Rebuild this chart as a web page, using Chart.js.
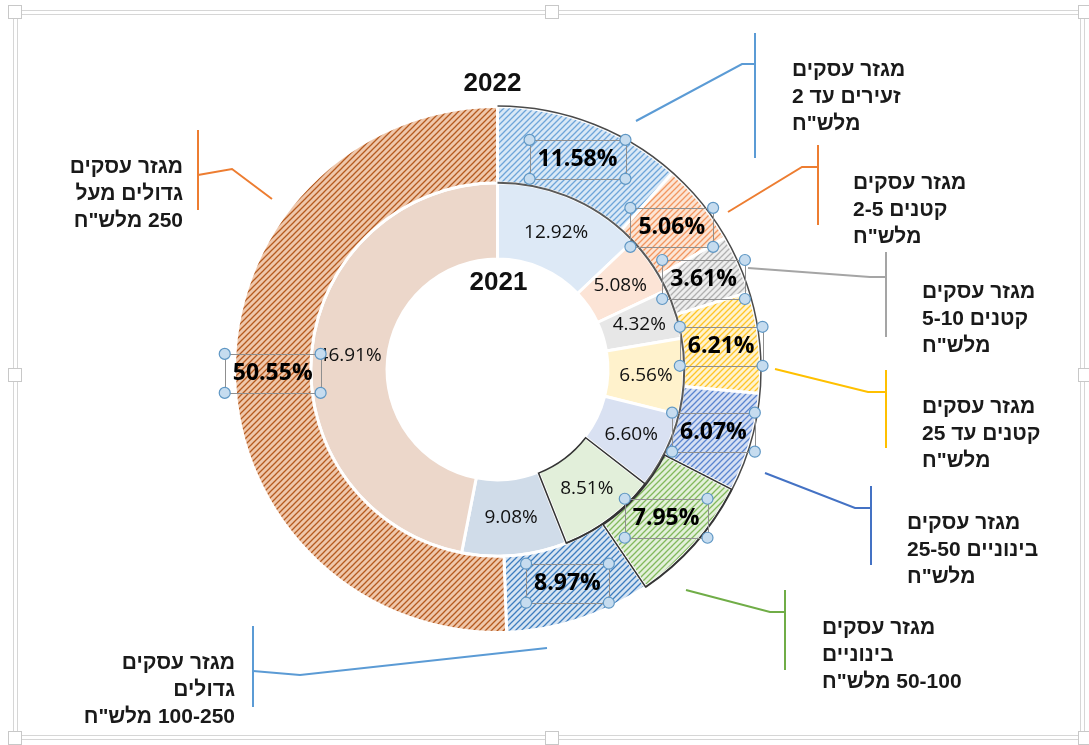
<!DOCTYPE html>
<html>
<head>
<meta charset="utf-8">
<script src="https://cdn.jsdelivr.net/npm/chart.js@4"></script>
<style>
  html, body { margin: 0; padding: 0; background: #fff; }
  canvas { display: block; }
</style>
</head>
<body>
<canvas id="c" width="1089" height="745"></canvas>
<script>
// segment order: clockwise from 12 o'clock
const categories = [
    'זעירים עד 2', 'קטנים 2-5', 'קטנים 5-10', 'קטנים עד 25',
    'בינוניים 25-50', 'בינוניים 50-100', 'גדולים 100-250', 'גדולים מעל 250'
];
const values2022 = [11.58, 5.06, 3.61, 6.21, 6.07, 7.95, 8.97, 50.55];
const values2021 = [12.92, 5.08, 4.32, 6.56, 6.60, 8.51, 9.08, 46.91];
const yearLabels = ['2022', '2021'];

// callout texts (one per category), lines as shown
const calloutTexts = [
    ['מגזר עסקים', 'זעירים עד 2', 'מלש"ח'],
    ['מגזר עסקים', 'קטנים 2-5', 'מלש"ח'],
    ['מגזר עסקים', 'קטנים 5-10', 'מלש"ח'],
    ['מגזר עסקים', 'קטנים עד 25', 'מלש"ח'],
    ['מגזר עסקים', 'בינוניים 25-50', 'מלש"ח'],
    ['מגזר עסקים', 'בינוניים', '50-100 מלש"ח'],
    ['מגזר עסקים', 'גדולים', '100-250 מלש"ח'],
    ['מגזר עסקים', 'גדולים מעל', '250 מלש"ח']
];

const lineColors = ['#5B9BD5', '#ED7D31', '#A5A5A5', '#FFC000', '#4472C4', '#70AD47', '#5B9BD5', '#ED7D31'];
const hatchBg = ['#d9e8f6', '#fce5d5', '#eeeeee', '#fff3cf', '#d5dff3', '#e3f0da', '#d6e4f2', '#efc7ab'];
const hatchFg = ['#6ea5d9', '#f29660', '#b0b0b0', '#ffc526', '#5a84cf', '#82b95c', '#3d7dbf', '#b55a1f'];
const innerColors = ['#dde9f6', '#fce4d6', '#e7e7e7', '#fff2cc', '#d9e1f2', '#e2efda', '#d0dce9', '#ecd7ca'];

// callout layout: leader points, bracket bar, text anchor
const calloutLayout = [
    { pts: [[636, 121], [742, 64], [755, 64]], bar: [755, 33, 158], x: 792, y: 70, align: 'left' },
    { pts: [[728, 212], [802, 167], [818, 167]], bar: [818, 145, 225], x: 853, y: 183, align: 'left' },
    { pts: [[748, 268], [870, 277], [886, 277]], bar: [886, 252, 337], x: 922, y: 292, align: 'left' },
    { pts: [[775, 369], [868, 392], [886, 392]], bar: [886, 370, 448], x: 922, y: 407, align: 'left' },
    { pts: [[765, 473], [855, 508], [871, 508]], bar: [871, 486, 565], x: 907, y: 523, align: 'left' },
    { pts: [[686, 590], [770, 612], [785, 612]], bar: [785, 590, 670], x: 822, y: 628, align: 'left' },
    { pts: [[547, 648], [300, 675], [253, 671]], bar: [253, 626, 707], x: 235, y: 663, align: 'right' },
    { pts: [[272, 199], [232, 169], [198, 175]], bar: [198, 130, 210], x: 183, y: 167, align: 'right' }
];

const canvas = document.getElementById('c');
const ctx = canvas.getContext('2d');

function makeHatch(bg, fg) {
    const c = document.createElement('canvas');
    c.width = 6; c.height = 6;
    const g = c.getContext('2d');
    g.fillStyle = bg;
    g.fillRect(0, 0, 6, 6);
    g.strokeStyle = fg;
    g.lineWidth = 1.3;
    g.beginPath();
    g.moveTo(-1, 7); g.lineTo(7, -1);
    g.moveTo(-4, 4); g.lineTo(4, -4);
    g.moveTo(2, 10); g.lineTo(10, 2);
    g.stroke();
    return ctx.createPattern(c, 'repeat');
}

const hatches = hatchBg.map((b, i) => makeHatch(b, hatchFg[i]));

const HEB_FONT = 'bold 21px "Liberation Sans", "DejaVu Sans", sans-serif';

function handle(x, y) {
    ctx.beginPath();
    ctx.arc(x, y, 5.5, 0, Math.PI * 2);
    ctx.fillStyle = '#c6dcef';
    ctx.fill();
    ctx.lineWidth = 1.2;
    ctx.strokeStyle = '#5f97c4';
    ctx.stroke();
}

const framePlugin = {
    id: 'frame',
    beforeDraw(chart) {
        const c = chart.ctx;
        c.save();
        c.fillStyle = '#fff';
        c.fillRect(0, 0, chart.width, chart.height);
        c.strokeStyle = '#d6d6d6';
        c.lineWidth = 1;
        c.strokeRect(13.5, 10.5, 1071, 729);
        c.strokeRect(17.5, 14.5, 1063, 721);
        const sq = [[15, 12], [552, 12], [1085, 12], [15, 375], [1085, 375], [15, 738], [552, 738], [1085, 738]];
        sq.forEach(([x, y]) => {
            c.fillStyle = '#fff';
            c.fillRect(x - 7, y - 7, 14, 14);
            c.strokeStyle = '#c8c8c8';
            c.strokeRect(x - 6.5, y - 6.5, 13, 13);
        });
        c.restore();
    }
};

const labelPlugin = {
    id: 'labels',
    afterDatasetsDraw(chart) {
        const c = chart.ctx;
        const outer = chart.getDatasetMeta(0).data;
        const inner = chart.getDatasetMeta(1).data;
        c.save();

        // dark outlines on the right half
        c.strokeStyle = '#4a4a4a';
        c.lineWidth = 1.5;
        const o0 = outer[0];
        c.beginPath();
        c.arc(o0.x, o0.y, o0.outerRadius + 0.5, outer[0].startAngle, outer[5].endAngle);
        c.stroke();
        c.lineWidth = 2;
        c.strokeStyle = '#5a5a5a';
        c.beginPath();
        c.arc(o0.x, o0.y, inner[0].outerRadius, inner[0].startAngle, inner[5].endAngle);
        c.stroke();
        [outer[5], inner[5]].forEach(a => {
            c.beginPath();
            c.arc(a.x, a.y, a.outerRadius, a.startAngle, a.endAngle);
            c.arc(a.x, a.y, a.innerRadius + 1, a.endAngle, a.startAngle, true);
            c.closePath();
            c.lineWidth = 1.5;
            c.strokeStyle = '#333';
            c.stroke();
        });

        c.textAlign = 'center';
        c.textBaseline = 'middle';
        c.fillStyle = '#111';

        // inner ring values
        c.font = '19px "Open Sans", sans-serif';
        inner.forEach((a, i) => {
            const p = a.tooltipPosition();
            c.fillText(values2021[i].toFixed(2) + '%', p.x, p.y);
        });

        // outer ring values with selection boxes
        c.font = 'bold 23px "Open Sans", sans-serif';
        outer.forEach((a, i) => {
            const p = a.tooltipPosition();
            const t = values2022[i].toFixed(2) + '%';
            c.fillStyle = '#000';
            c.fillText(t, p.x, p.y);
            const w = c.measureText(t).width + 16;
            const h = 39;
            const x0 = p.x - w / 2, y0 = p.y - h / 2;
            c.strokeStyle = '#8f8f8f';
            c.lineWidth = 1;
            c.strokeRect(Math.round(x0) + 0.5, Math.round(y0) + 0.5, Math.round(w), h);
            handle(x0, y0); handle(x0 + w, y0); handle(x0, y0 + h); handle(x0 + w, y0 + h);
        });

        // year titles
        c.fillStyle = '#111';
        c.font = 'bold 26px "Liberation Sans", sans-serif';
        c.fillText(yearLabels[0], o0.x - 5, o0.y - o0.outerRadius - 23);
        c.fillText(yearLabels[1], o0.x + 1, o0.y - 87);

        // callouts
        calloutLayout.forEach((L, i) => {
            c.strokeStyle = lineColors[i];
            c.lineWidth = 2;
            c.beginPath();
            L.pts.forEach(([x, y], k) => k ? c.lineTo(x, y) : c.moveTo(x, y));
            c.stroke();
            c.beginPath();
            c.moveTo(L.bar[0], L.bar[1]);
            c.lineTo(L.bar[0], L.bar[2]);
            c.stroke();

            c.font = HEB_FONT;
            c.fillStyle = '#1a1a1a';
            c.direction = 'rtl';
            c.textAlign = L.align;
            calloutTexts[i].forEach((line, k) => {
                c.fillText(line, L.x, L.y + k * 27);
            });
            c.direction = 'ltr';
        });

        c.restore();
    }
};

new Chart(canvas, {
    type: 'doughnut',
    data: {
        labels: categories,
        datasets: [
            {
                label: yearLabels[0],
                data: values2022,
                backgroundColor: hatches,
                borderColor: '#ffffff',
                borderWidth: 3
            },
            {
                label: yearLabels[1],
                data: values2021,
                backgroundColor: innerColors,
                borderColor: '#ffffff',
                borderWidth: 3
            }
        ]
    },
    options: {
        responsive: false,
        animation: false,
        cutout: '42%',
        layout: { padding: { left: 233, right: 327, top: 105, bottom: 111 } },
        plugins: {
            legend: { display: false },
            tooltip: { enabled: false }
        }
    },
    plugins: [framePlugin, labelPlugin]
});
</script>
</body>
</html>
